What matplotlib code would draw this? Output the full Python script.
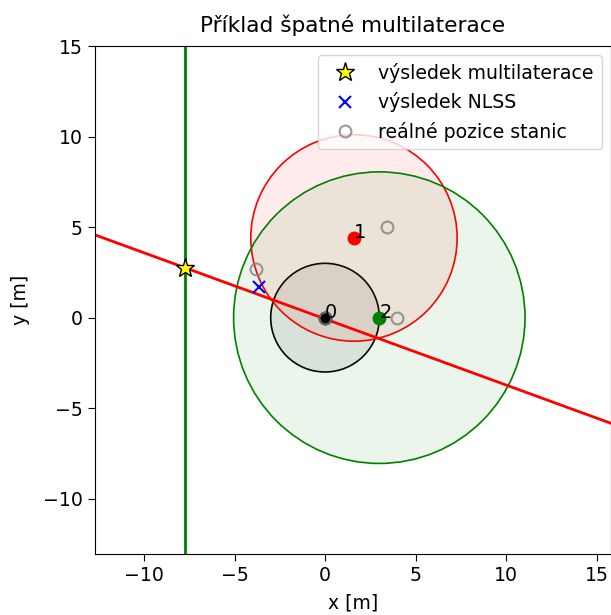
import matplotlib
matplotlib.use("Agg")
import matplotlib.pyplot as plt
from matplotlib.patches import Circle

# station positions used by the solver, measured ranges and colours
station_ids = ["0", "1", "2"]
station_x = [0.0, 1.6, 3.0]
station_y = [0.0, 4.4, 0.0]
station_r = [3.0, 5.7, 8.05]
station_colors = ["black", "red", "green"]

# real station positions
real_x = [-3.8, 0.0, 3.4, 4.0]
real_y = [2.7, 0.0, 5.0, 0.0]

# results
multilat_x, multilat_y = -7.72, 2.75
nlss_x, nlss_y = -3.65, 1.72

# radical lines
vline_x = -7.72
red_slope = -0.365

fig = plt.figure(figsize=(6.11, 6.15), dpi=100)
ax = fig.add_axes([0.1548, 0.0992, 0.8452, 0.826])

for x, y, r, c in zip(station_x, station_y, station_r, station_colors):
    ax.add_patch(Circle((x, y), r, facecolor=c, alpha=0.08, edgecolor="none"))
    ax.add_patch(Circle((x, y), r, facecolor="none", edgecolor=c, lw=1.2))

ax.axvline(vline_x, color="green", lw=2)
ax.axline((multilat_x, multilat_y), slope=red_slope, color="red", lw=2)

for x, y, c, t in zip(station_x, station_y, station_colors, station_ids):
    ax.plot(x, y, "o", color=c, ms=9)
    ax.text(x, y, t, fontsize=14)

ax.plot(multilat_x, multilat_y, "*", color="yellow", mec="black", ms=14,
        ls="none", label="výsledek multilaterace")
ax.plot(nlss_x, nlss_y, "x", color="blue", ms=9, mew=1.5, ls="none",
        label="výsledek NLSS")
ax.plot(real_x, real_y, "o", mfc="none", mec="grey", ms=8.5, mew=1.5,
        ls="none", alpha=0.8, label="reálné pozice stanic")

ax.set_xlim(-12.73, 15.8)
ax.set_ylim(-13.05, 15)
ax.set_xticks([-10, -5, 0, 5, 10, 15])
ax.set_yticks([-10, -5, 0, 5, 10, 15])
ax.tick_params(labelsize=13.6, length=5)
ax.set_xlabel("x [m]", fontsize=13.6, labelpad=6)
ax.set_ylabel("y [m]", fontsize=13.6, labelpad=9)
ax.set_title("Příklad špatné multilaterace", fontsize=15.6, pad=10)
ax.legend(loc="upper right", fontsize=13.6)

fig.savefig("out.png", dpi=100)
